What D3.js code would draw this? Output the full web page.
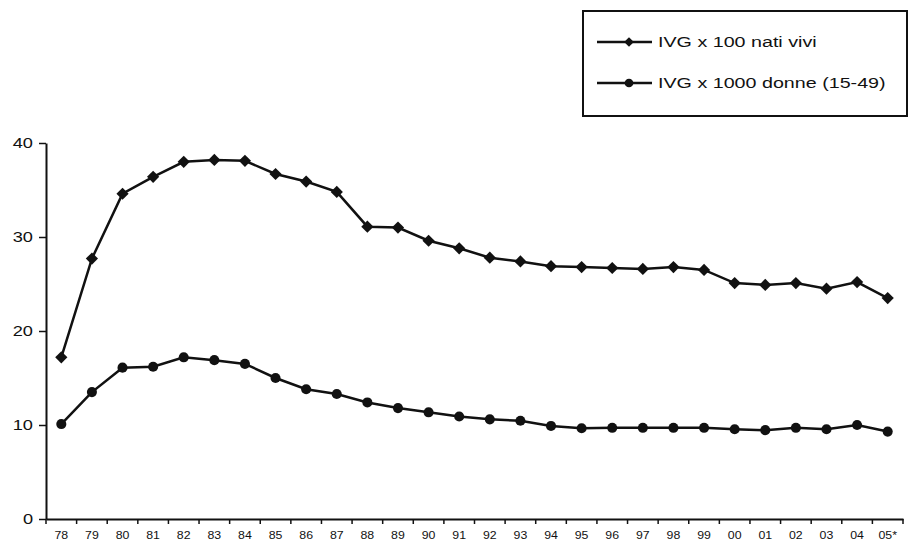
<!DOCTYPE html>
<html><head><meta charset="utf-8">
<script src="https://cdn.jsdelivr.net/npm/d3@7"></script>
<style>
html,body{margin:0;padding:0;background:#fff;}
text{font-family:"Liberation Sans",Arial,sans-serif;fill:#111;}
</style></head>
<body><svg id="c" width="910" height="546"></svg>
<script>
const years = ["78","79","80","81","82","83","84","85","86","87","88","89","90","91","92","93","94","95","96","97","98","99","00","01","02","03","04","05*"];
const perBirths = [17.2,27.7,34.6,36.4,38.0,38.2,38.1,36.7,35.9,34.8,31.1,31.0,29.6,28.8,27.8,27.4,26.9,26.8,26.7,26.6,26.8,26.5,25.1,24.9,25.1,24.5,25.2,23.5];
const perWomen = [10.1,13.5,16.1,16.2,17.2,16.9,16.5,15.0,13.8,13.3,12.4,11.8,11.35,10.9,10.6,10.45,9.9,9.65,9.7,9.7,9.7,9.7,9.55,9.45,9.7,9.55,10.0,9.3];
const yTicks = [0,10,20,30,40];
const seriesNames = ["IVG x 100 nati vivi","IVG x 1000 donne (15-49)"];

const svg = d3.select("#c");
const L = 46, R = 903, T = 143, B = 519;
const x = d3.scaleBand().domain(years).range([L, R]);
const y = d3.scaleLinear().domain([0,40]).range([B, T]);

function stretch(sel, f){
  sel.each(function(){
    const w = this.getComputedTextLength();
    d3.select(this).attr("textLength", w*f).attr("lengthAdjust","spacingAndGlyphs");
  });
}

// axes
const yAx = svg.append("g").attr("transform",`translate(${L},0)`)
  .call(d3.axisLeft(y).tickValues(yTicks).tickSize(7).tickPadding(6).tickSizeOuter(0));
yAx.select(".domain").attr("stroke","#111").attr("stroke-width",2);
yAx.selectAll(".tick line").attr("stroke","#111").attr("stroke-width",1.5);
yAx.selectAll(".tick text").attr("font-size",14).attr("fill","#222");
stretch(yAx.selectAll(".tick text"), 1.3);

const xAx = svg.append("g").attr("transform",`translate(0,${B})`)
  .call(d3.axisBottom(x).tickSize(0).tickPadding(12).tickSizeOuter(0));
xAx.select(".domain").attr("stroke","#111").attr("stroke-width",2);
xAx.selectAll(".tick text").attr("font-size",11).attr("fill","#222");
stretch(xAx.selectAll(".tick text"), 1.12);
// tick marks at band boundaries
const bounds = years.map(d => x(d)).concat([R]);
svg.append("g").selectAll("line").data(bounds).join("line")
  .attr("x1",d=>d).attr("x2",d=>d).attr("y1",B).attr("y2",B+5)
  .attr("stroke","#111").attr("stroke-width",1.5);

const cx = d => x(d) + x.bandwidth()/2;
const line = d3.line().x((d,i)=>cx(years[i])).y(d=>y(d));

const diamond = d3.symbol().type(d3.symbolDiamond2).size(95);
const circle = d3.symbol().type(d3.symbolCircle).size(80);

function drawSeries(vals, sym){
  svg.append("path").datum(vals).attr("d",line).attr("fill","none")
    .attr("stroke","#111").attr("stroke-width",2.5);
  svg.append("g").selectAll("path").data(vals).join("path")
    .attr("d",sym).attr("transform",(d,i)=>`translate(${cx(years[i])},${y(d)})`)
    .attr("fill","#111");
}
drawSeries(perBirths, diamond);
drawSeries(perWomen, circle);

// legend
const lg = svg.append("g");
lg.append("rect").attr("x",583).attr("y",11).attr("width",324).attr("height",105)
  .attr("fill","#fff").attr("stroke","#111").attr("stroke-width",2);
const items = [{name:seriesNames[0],sym:diamond,y:42},{name:seriesNames[1],sym:circle,y:83}];
items.forEach(it=>{
  lg.append("line").attr("x1",597).attr("x2",652).attr("y1",it.y).attr("y2",it.y)
    .attr("stroke","#111").attr("stroke-width",2.5);
  lg.append("path").attr("d",it.sym.size(60)()).attr("transform",`translate(629,${it.y})`).attr("fill","#111");
  const t = lg.append("text").attr("x",658).attr("y",it.y+5).attr("font-size",15.5).text(it.name);
  stretch(t, 1.27);
});
</script></body></html>
